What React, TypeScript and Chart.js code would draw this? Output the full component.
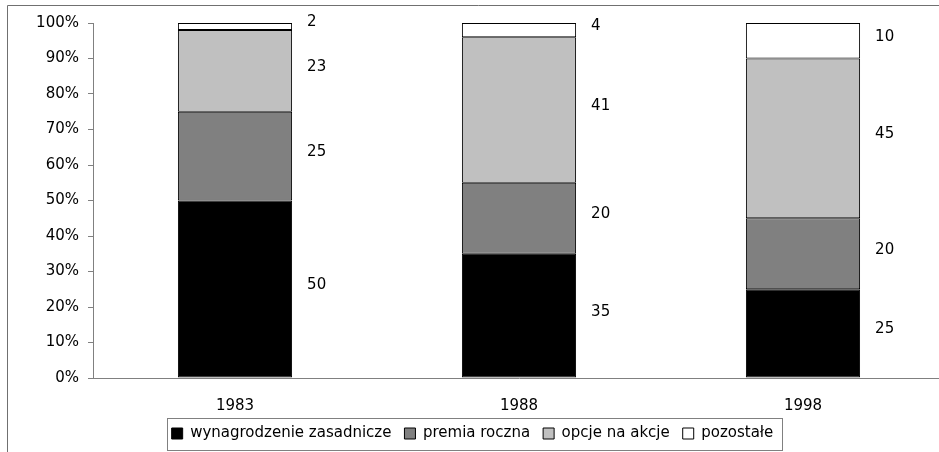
import { useEffect, useRef } from "react";
import { Chart, registerables } from "chart.js";

Chart.register(...registerables);

const categories = ["1983", "1988", "1998"];
const seriesNames = ["wynagrodzenie zasadnicze", "premia roczna", "opcje na akcje", "pozostałe"];
const basePay = [50, 35, 25];
const annualBonus = [25, 20, 20];
const stockOptions = [23, 41, 45];
const otherPay = [2, 4, 10];
const seriesColors = ["#000000", "#808080", "#c0c0c0", "#ffffff"];
const yTickValues = [0, 10, 20, 30, 40, 50, 60, 70, 80, 90, 100];

const FONT = "'DejaVu Sans', sans-serif";
const AXIS_GRAY = "#808080";

const framePlugin = {
  id: "frame",
  beforeDraw(chart: any) {
    const ctx = chart.ctx;
    ctx.save();
    ctx.strokeStyle = "#707070";
    ctx.lineWidth = 1;
    ctx.beginPath();
    ctx.moveTo(7.5, chart.height);
    ctx.lineTo(7.5, 5.5);
    ctx.lineTo(chart.width, 5.5);
    ctx.stroke();
    ctx.restore();
  },
};

const valueLabelPlugin = {
  id: "valueLabels",
  afterDatasetsDraw(chart: any) {
    const ctx = chart.ctx;
    ctx.save();
    ctx.font = `15px ${FONT}`;
    ctx.fillStyle = "#000";
    ctx.textAlign = "left";
    ctx.textBaseline = "middle";
    chart.data.datasets.forEach((ds: any, di: number) => {
      const meta = chart.getDatasetMeta(di);
      meta.data.forEach((bar: any, i: number) => {
        const p = bar.getProps(["x", "y", "base", "width"], true);
        const x = p.x + p.width / 2 + 15;
        const y = (p.y + p.base) / 2 - 4;
        ctx.fillText(String(ds.data[i]), x, y);
      });
    });
    ctx.restore();
  },
};

const legendBoxPlugin = {
  id: "legendBox",
  afterDraw(chart: any) {
    const lg = chart.legend;
    if (!lg || !lg.legendHitBoxes || !lg.legendHitBoxes.length) return;
    const boxes = lg.legendHitBoxes;
    const first = boxes[0];
    const last = boxes[boxes.length - 1];
    const left = Math.round(first.left - 5) + 0.5;
    const right = Math.round(last.left + last.width + 9) + 0.5;
    const cy = first.top + first.height / 2;
    const top = Math.round(cy - 16) + 0.5;
    const bottom = Math.round(cy + 16) + 0.5;
    const ctx = chart.ctx;
    ctx.save();
    ctx.strokeStyle = AXIS_GRAY;
    ctx.lineWidth = 1;
    ctx.strokeRect(left, top, right - left, bottom - top);
    ctx.restore();
  },
};

export default function App() {
  const ref = useRef<HTMLCanvasElement | null>(null);

  useEffect(() => {
    if (!ref.current) return;
    const seriesData = [basePay, annualBonus, stockOptions, otherPay];
    const chart = new Chart(ref.current, {
      type: "bar",
      data: {
        labels: categories,
        datasets: seriesNames.map((name, i) => ({
          label: name,
          data: seriesData[i],
          backgroundColor: seriesColors[i],
          borderColor: "#000000",
          borderWidth: 1,
          borderSkipped: false,
          categoryPercentage: 1,
          barPercentage: 0.402,
        })),
      },
      options: {
        responsive: false,
        animation: false,
        devicePixelRatio: 1,
        layout: { padding: { top: 23, right: 5, left: 0, bottom: 1 } },
        plugins: {
          legend: {
            position: "bottom",
            labels: {
              boxWidth: 11,
              boxHeight: 11,
              padding: 13,
              color: "#000",
              font: { family: FONT, size: 15 },
            },
          },
          tooltip: { enabled: false },
        },
        scales: {
          x: {
            stacked: true,
            grid: { display: true, drawOnChartArea: false, drawTicks: false },
            border: { display: true, color: AXIS_GRAY, width: 1 },
            ticks: { color: "#000", font: { family: FONT, size: 15 }, padding: 19 },
            afterFit(scale: any) {
              scale.height = 35;
            },
          },
          y: {
            stacked: true,
            min: 0,
            max: 100,
            afterBuildTicks(scale: any) {
              scale.ticks = yTickValues.map((v) => ({ value: v }));
            },
            grid: { drawOnChartArea: false, drawTicks: true, tickLength: 5, color: AXIS_GRAY },
            border: { display: true, color: AXIS_GRAY, width: 1 },
            ticks: {
              color: "#000",
              font: { family: FONT, size: 15 },
              padding: 9,
              callback: (v: any) => `${v}%`,
            },
            afterFit(scale: any) {
              scale.width = 93;
            },
          },
        },
      },
      plugins: [framePlugin, valueLabelPlugin, legendBoxPlugin],
    });
    return () => chart.destroy();
  }, []);

  return (
    <div
      style={{
        position: "fixed",
        left: 0,
        top: 0,
        width: 939,
        height: 452,
        overflow: "hidden",
        background: "#fff",
      }}
    >
      <canvas ref={ref} width={950} height={452} style={{ display: "block" }} />
    </div>
  );
}
